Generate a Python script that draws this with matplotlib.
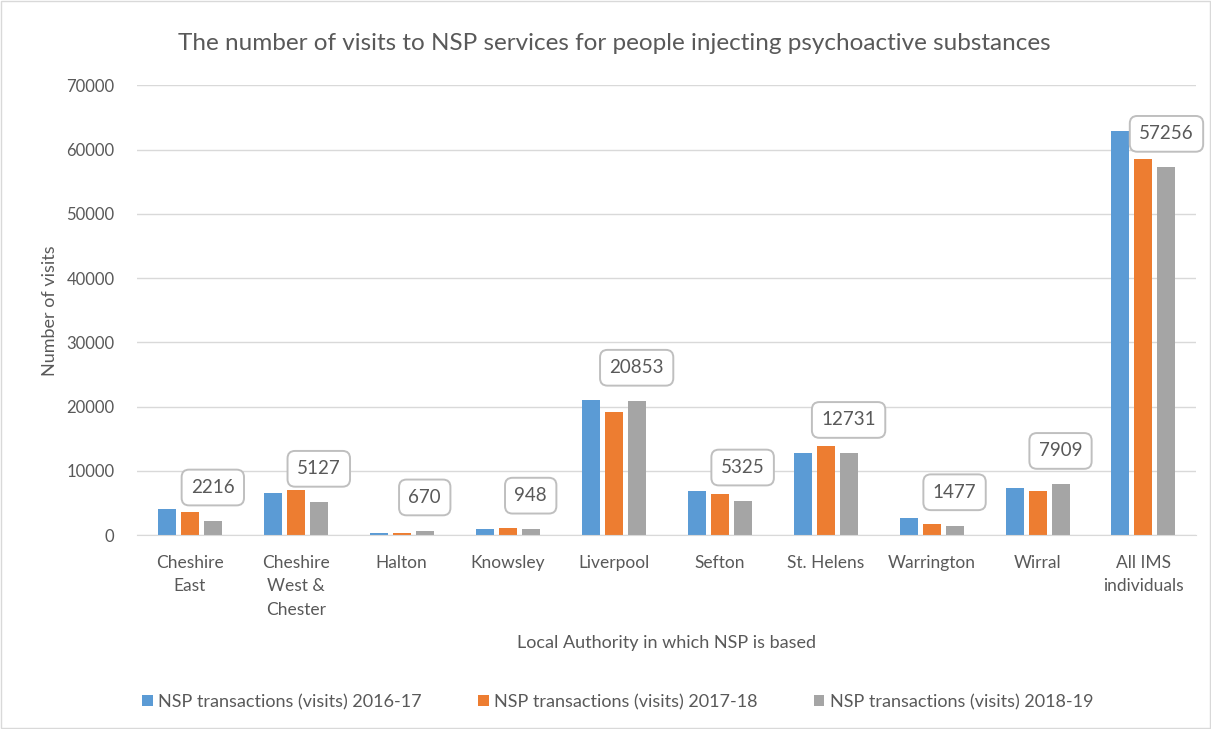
import numpy as np
import matplotlib.pyplot as plt

plt.rcParams['font.family'] = ['Lato', 'DejaVu Sans']

categories = ["Cheshire\nEast", "Cheshire\nWest &\nChester", "Halton", "Knowsley", "Liverpool",
              "Sefton", "St. Helens", "Warrington", "Wirral", "All IMS\nindividuals"]
visits_2016_17 = [4100, 6500, 250, 900, 20950, 6800, 12800, 2600, 7300, 62900]
visits_2017_18 = [3600, 7000, 250, 1100, 19100, 6400, 13800, 1800, 6800, 58500]
visits_2018_19 = [2216, 5127, 670, 948, 20853, 5325, 12731, 1477, 7909, 57256]
series_names = ["NSP transactions (visits) 2016-17", "NSP transactions (visits) 2017-18",
                "NSP transactions (visits) 2018-19"]
colors = ["#5b9bd5", "#ed7d31", "#a5a5a5"]
text_col = "#595959"

fig = plt.figure(figsize=(12.11, 7.29), dpi=100)
ax = fig.add_axes([0.113, 0.266, 0.875, 0.617])

x = np.arange(len(categories))
w = 0.17
step = 0.217
for i, vals in enumerate([visits_2016_17, visits_2017_18, visits_2018_19]):
    ax.bar(x + (i - 1) * step, vals, width=w, color=colors[i], label=series_names[i], zorder=2)

# data labels for the latest series
for xi, v in zip(x, visits_2018_19):
    ax.annotate(str(v), (xi + step, v), xytext=(0, 24), textcoords="offset points",
                ha="center", va="center", fontsize=13.5, color=text_col, zorder=4,
                bbox=dict(boxstyle="round,pad=0.5,rounding_size=0.4", fc="white", ec="#bfbfbf", lw=1.4))

ax.set_xlim(-0.5, len(categories) - 0.5)
ax.set_ylim(0, 70000)
ax.set_yticks(np.arange(0, 70001, 10000))
ax.set_xticks(x)
ax.set_xticklabels(categories, fontsize=12.5, color=text_col, va="top", linespacing=1.6)
ax.tick_params(axis="y", labelsize=12, labelcolor=text_col, length=0, pad=16)
ax.tick_params(axis="x", length=0, pad=14)
ax.grid(axis="y", color="#d9d9d9", lw=1, zorder=0)
for s in ["top", "right", "left"]:
    ax.spines[s].set_visible(False)
ax.spines["bottom"].set_color("#d9d9d9")

ax.set_ylabel("Number of visits", fontsize=13, color=text_col, labelpad=6)
ax.set_xlabel("Local Authority in which NSP is based", fontsize=13, color=text_col, labelpad=12)
fig.text(0.507, 0.94, "The number of visits to NSP services for people injecting psychoactive substances",
         ha="center", va="center", fontsize=17.5, color=text_col)

fig.legend(loc="center", bbox_to_anchor=(0.51, 0.037), ncol=3, frameon=False, fontsize=13,
           handlelength=0.6, handleheight=0.6, columnspacing=3.1, handletextpad=0.3,
           labelcolor=text_col)

fig.add_artist(plt.Rectangle((0.001, 0.001), 0.998, 0.998, transform=fig.transFigure,
                             fill=False, ec="#d9d9d9", lw=1))

fig.savefig("out.png", dpi=100)
